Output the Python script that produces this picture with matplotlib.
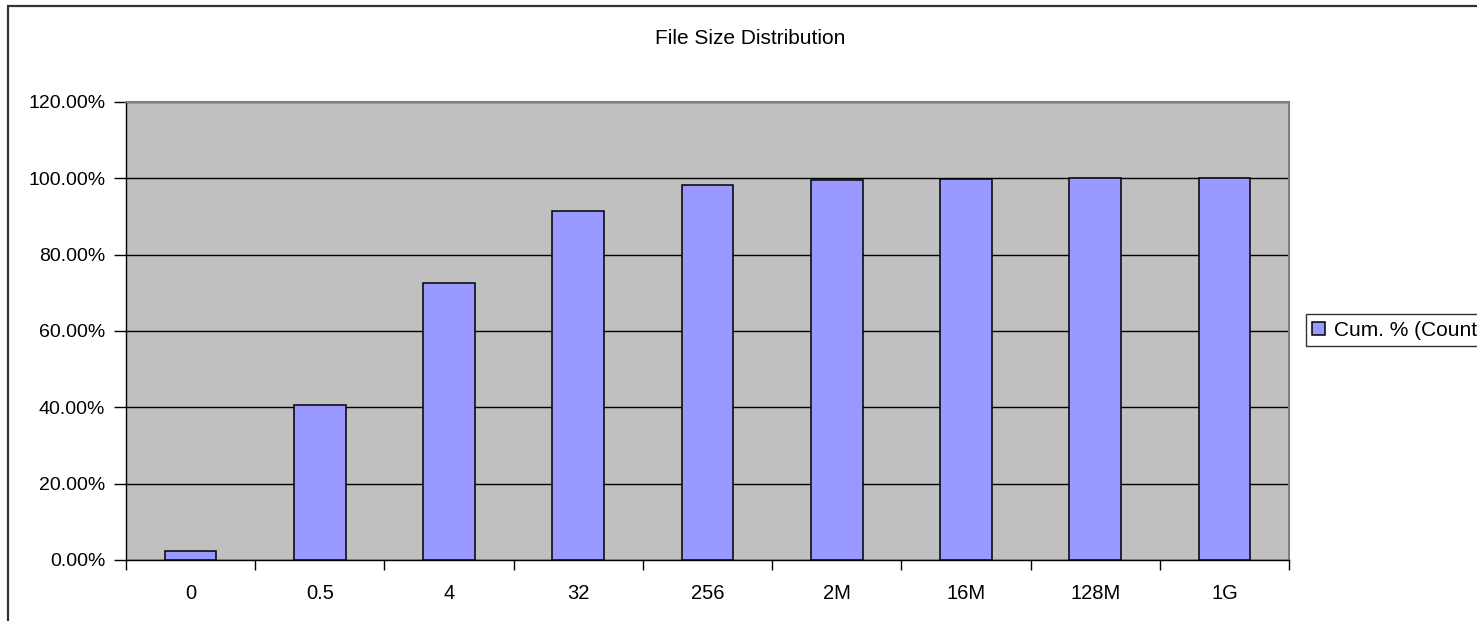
import matplotlib
matplotlib.use('Agg')
import matplotlib.pyplot as plt
from matplotlib.patches import Rectangle
from matplotlib.ticker import FuncFormatter, MultipleLocator

plt.rcParams['font.family'] = ['Liberation Sans', 'DejaVu Sans']

# cumulative share of files (by count) per size bucket
size_labels = ['0', '0.5', '4', '32', '256', '2M', '16M', '128M', '1G']
cum_pct = [0.024, 0.406, 0.725, 0.915, 0.982, 0.995, 0.999, 1.0, 1.0]
series_name = 'Cum. % (Count)'

W, H = 1477, 621
fig = plt.figure(figsize=(W / 100, H / 100), dpi=100)

# chart area border (runs off the right and bottom edges)
fig.patches.append(Rectangle((8 / W, -0.1), 1.2, 1 + 0.1 - 6 / H,
                             transform=fig.transFigure, fill=False,
                             edgecolor='#333333', linewidth=1.6))

ax = fig.add_axes([126 / W, (H - 560) / H, (1289 - 126) / W, (560 - 102) / H])
ax.set_facecolor('#C0C0C0')

x = range(len(size_labels))
ax.bar(x, cum_pct, width=0.4, color='#9999FF', edgecolor='black',
       linewidth=1.1, label=series_name, zorder=3)

ax.set_xlim(-0.5, len(size_labels) - 0.5)
ax.set_ylim(0, 1.2)
ax.yaxis.set_major_locator(MultipleLocator(0.2))
ax.yaxis.set_major_formatter(FuncFormatter(lambda v, p: f'{v * 100:.2f}%'))
ax.grid(axis='y', color='black', linewidth=1, zorder=1)

# category ticks sit between the bars
ax.set_xticks([i - 0.5 for i in range(len(size_labels) + 1)])
ax.set_xticklabels([])
ax.set_xticks(list(x), minor=True)
ax.set_xticklabels(size_labels, minor=True)
ax.tick_params(axis='x', which='minor', length=0, pad=17, labelsize=14.5)
ax.tick_params(axis='x', which='major', length=7, width=1, direction='out')
ax.tick_params(axis='y', length=9, width=1, direction='out', pad=6, labelsize=14)

for side in ('top', 'right'):
    ax.spines[side].set_color('#808080')
    ax.spines[side].set_linewidth(1.5)
for side in ('left', 'bottom'):
    ax.spines[side].set_color('black')
    ax.spines[side].set_linewidth(1)

fig.text(750 / W, 1 - 39 / H, 'File Size Distribution', ha='center',
         va='center', fontsize=15)

# legend box runs past the right edge of the chart area
leg = fig.legend(loc='center left', bbox_to_anchor=(1306 / W, 1 - 330 / H),
                 fontsize=15, frameon=True, fancybox=False, handlelength=0.6,
                 handleheight=0.6, handletextpad=0.45, borderpad=0.3,
                 borderaxespad=0)
leg.get_frame().set_edgecolor('black')
leg.get_frame().set_linewidth(1)

fig.savefig('out.png', dpi=100)
